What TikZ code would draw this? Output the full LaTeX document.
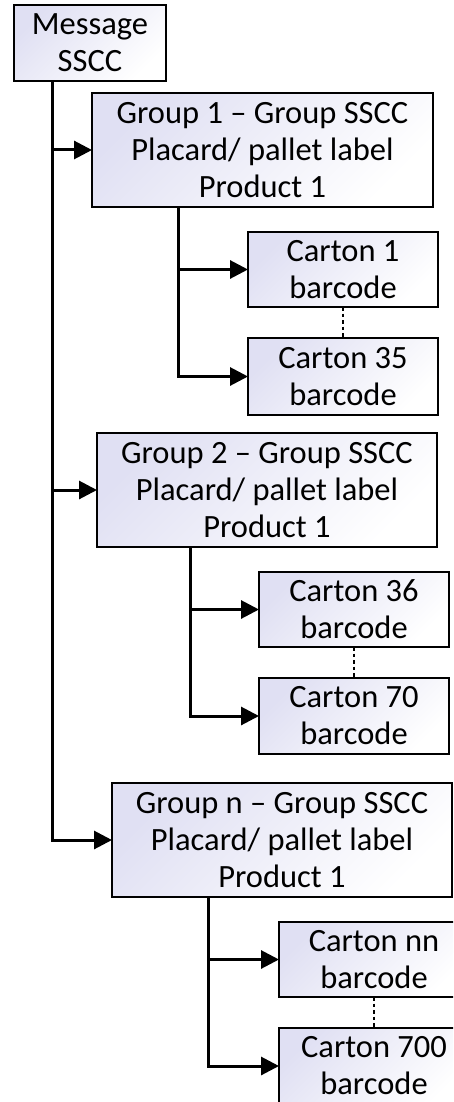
\documentclass[tikz,border=0pt]{standalone}
\usepackage{fontspec}
\setmainfont{Carlito}
\usetikzlibrary{arrows.meta,calc}
\definecolor{boxtint}{HTML}{E0E0F3}
\tikzset{
  box/.style={draw=black, line width=1.8pt, top color=boxtint, bottom color=white, shading angle=45,
    inner sep=0pt, outer sep=0pt, anchor=north west, align=center,
    font=\fontsize{32.5}{37}\selectfont},
  conn/.style={line width=3pt, draw=black},
  arr/.style={conn, -{Triangle[length=18pt,width=18pt]}},
  dots/.style={line width=2.6pt, dash pattern=on 3.5pt off 3pt}
}
\begin{document}
\begin{tikzpicture}[x=1pt,y=1pt]
\useasboundingbox (0,0) rectangle (453,-1102);
\clip (0,0) rectangle (453,-1102);
\node[box, minimum width=152pt, minimum height=76pt] (msg) at (14,-5) {Message\\SSCC};
\node[box, minimum width=341pt, minimum height=114pt] (g1) at (92,-93) {Group 1 – Group SSCC\\Placard/ pallet label\\Product 1};
\node[box, minimum width=190pt, minimum height=75pt] (c1) at (248,-232) {Carton 1\\barcode};
\node[box, minimum width=190pt, minimum height=77pt] (c35) at (248,-338) {Carton 35\\barcode};
\node[box, minimum width=340pt, minimum height=114pt] (g2) at (97,-433) {Group 2 – Group SSCC\\Placard/ pallet label\\Product 1};
\node[box, minimum width=190pt, minimum height=75pt] (c36) at (259,-572) {Carton 36\\barcode};
\node[box, minimum width=190pt, minimum height=76pt] (c70) at (259,-678) {Carton 70\\barcode};
\node[box, minimum width=340pt, minimum height=114pt] (gn) at (112,-783) {Group n – Group SSCC\\Placard/ pallet label\\Product 1};
\node[box, minimum width=190pt, minimum height=75pt] (cnn) at (279,-922) {Carton nn\\barcode};
\node[box, minimum width=190pt, minimum height=76pt] (c700) at (279,-1028) {Carton 700\\barcode};
% spine
\coordinate (sp) at (52,-81);
\draw[arr] (sp) |- (gn.west);
\draw[arr] (sp |- g1.west) -- (g1.west);
\draw[arr] (sp |- g2.west) -- (g2.west);
% group 1 branch
\coordinate (b1) at (178,-207);
\draw[arr] (b1) |- (c35.west);
\draw[arr] (b1 |- c1.west) -- (c1.west);
\draw[dots] (c1.south) -- (c35.north);
% group 2 branch
\coordinate (b2) at (190,-547);
\draw[arr] (b2) |- (c70.west);
\draw[arr] (b2 |- c36.west) -- (c36.west);
\draw[dots] (c36.south) -- (c70.north);
% group n branch
\coordinate (b3) at (208,-897);
\draw[arr] (b3) |- (c700.west);
\draw[arr] (b3 |- cnn.west) -- (cnn.west);
\draw[dots] (cnn.south) -- (c700.north);
\end{tikzpicture}
\end{document}
